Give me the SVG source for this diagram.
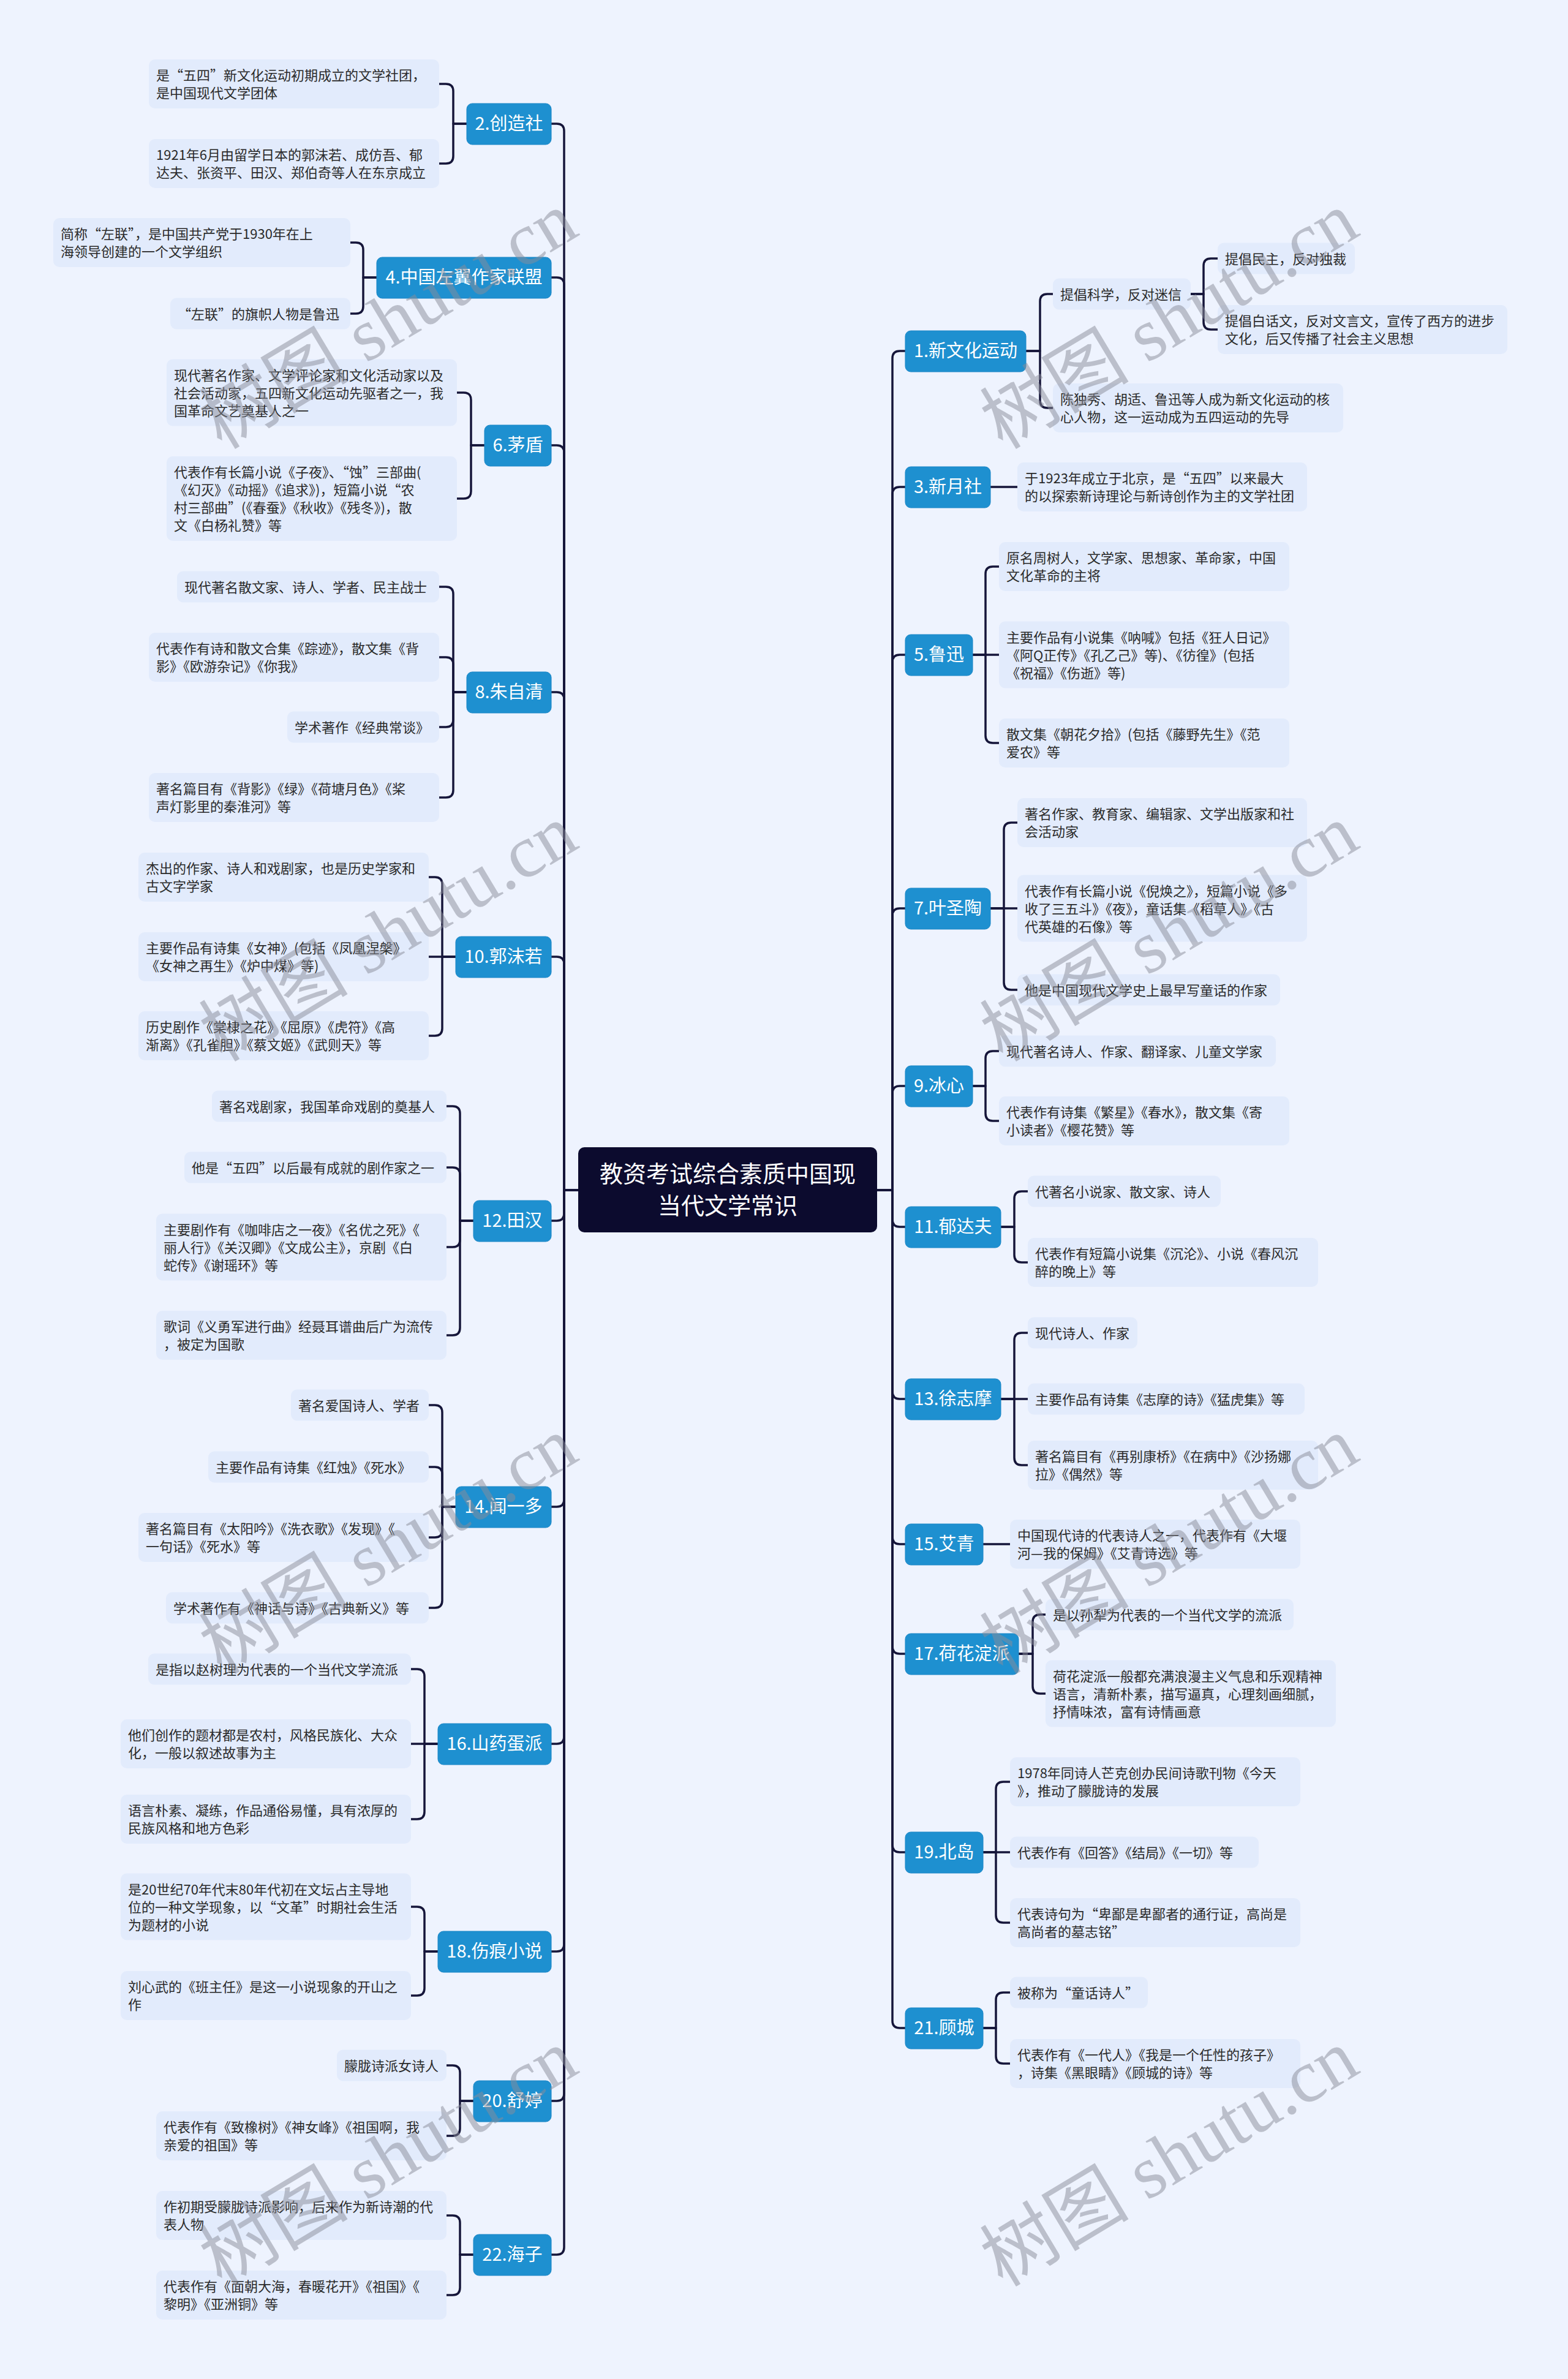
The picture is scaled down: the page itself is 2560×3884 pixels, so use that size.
<svg xmlns="http://www.w3.org/2000/svg" width="2560" height="3884" viewBox="0 0 2560 3884">
<style>
.c{fill:none;stroke:#16163a;stroke-width:3.5;stroke-linecap:round;stroke-linejoin:round}
.nb{fill:#1E90D0;stroke:#1a86c6;stroke-width:1}
.nt{fill:#ffffff;font-family:"Noto Sans CJK SC","Noto Sans",sans-serif;font-size:29px;text-anchor:middle}
.lb{fill:#E2EBFC}
.lt{fill:#2a2a2a;font-family:"Noto Sans CJK SC","Noto Sans",sans-serif;font-size:22px}
.rb{fill:#0C0B2E}
.rt{fill:#ffffff;font-family:"Noto Sans CJK SC","Noto Sans",sans-serif;font-size:38px;text-anchor:middle}
.wm{fill:#8a8d99;opacity:0.5;font-family:"Liberation Serif","Noto Sans CJK SC",serif;font-size:122px}
</style>
<rect x="0" y="0" width="2560" height="3884" fill="#EEF3FE"/>
<g id="connectors">
<path class="c" d="M944,1943 H921 V214 Q921,202 909,202 H900"/>
<path class="c" d="M944,1943 H921 V465 Q921,453 909,453 H900"/>
<path class="c" d="M944,1943 H921 V739 Q921,727 909,727 H900"/>
<path class="c" d="M944,1943 H921 V1142 Q921,1130 909,1130 H900"/>
<path class="c" d="M944,1943 H921 V1574 Q921,1562 909,1562 H900"/>
<path class="c" d="M944,1943 H921 V1981 Q921,1993 909,1993 H900"/>
<path class="c" d="M944,1943 H921 V2448 Q921,2460 909,2460 H900"/>
<path class="c" d="M944,1943 H921 V2835 Q921,2847 909,2847 H900"/>
<path class="c" d="M944,1943 H921 V3174 Q921,3186 909,3186 H900"/>
<path class="c" d="M944,1943 H921 V3418 Q921,3430 909,3430 H900"/>
<path class="c" d="M944,1943 H921 V3669 Q921,3681 909,3681 H900"/>
<path class="c" d="M1432,1943 H1457 V585 Q1457,573 1469,573 H1478"/>
<path class="c" d="M1432,1943 H1457 V807 Q1457,795 1469,795 H1478"/>
<path class="c" d="M1432,1943 H1457 V1081 Q1457,1069 1469,1069 H1478"/>
<path class="c" d="M1432,1943 H1457 V1495 Q1457,1483 1469,1483 H1478"/>
<path class="c" d="M1432,1943 H1457 V1785 Q1457,1773 1469,1773 H1478"/>
<path class="c" d="M1432,1943 H1457 V1991 Q1457,2003 1469,2003 H1478"/>
<path class="c" d="M1432,1943 H1457 V2272 Q1457,2284 1469,2284 H1478"/>
<path class="c" d="M1432,1943 H1457 V2509 Q1457,2521 1469,2521 H1478"/>
<path class="c" d="M1432,1943 H1457 V2688 Q1457,2700 1469,2700 H1478"/>
<path class="c" d="M1432,1943 H1457 V3012 Q1457,3024 1469,3024 H1478"/>
<path class="c" d="M1432,1943 H1457 V3299 Q1457,3311 1469,3311 H1478"/>
<path class="c" d="M762,202 H740 V149 Q740,137 728,137 H717"/>
<path class="c" d="M762,202 H740 V255 Q740,267 728,267 H717"/>
<path class="c" d="M615,453 H593 V408 Q593,396 581,396 H572"/>
<path class="c" d="M615,453 H593 V500 Q593,512 581,512 H572"/>
<path class="c" d="M791,727 H769 V653 Q769,641 757,641 H746"/>
<path class="c" d="M791,727 H769 V802 Q769,814 757,814 H746"/>
<path class="c" d="M762,1130 H740 V970 Q740,958 728,958 H717"/>
<path class="c" d="M762,1130 H740 V1085 Q740,1073 728,1073 H717"/>
<path class="c" d="M762,1130 H740 V1175 Q740,1187 728,1187 H717"/>
<path class="c" d="M762,1130 H740 V1290 Q740,1302 728,1302 H717"/>
<path class="c" d="M744,1562 H722 V1444 Q722,1432 710,1432 H700"/>
<path class="c" d="M744,1562 H700"/>
<path class="c" d="M744,1562 H722 V1679 Q722,1691 710,1691 H700"/>
<path class="c" d="M773,1993 H751 V1818 Q751,1806 739,1806 H729"/>
<path class="c" d="M773,1993 H751 V1918 Q751,1906 739,1906 H729"/>
<path class="c" d="M773,1993 H751 V2024 Q751,2036 739,2036 H729"/>
<path class="c" d="M773,1993 H751 V2168 Q751,2180 739,2180 H729"/>
<path class="c" d="M744,2460 H722 V2306 Q722,2294 710,2294 H700"/>
<path class="c" d="M744,2460 H722 V2407 Q722,2395 710,2395 H700"/>
<path class="c" d="M744,2460 H722 V2498 Q722,2510 710,2510 H700"/>
<path class="c" d="M744,2460 H722 V2613 Q722,2625 710,2625 H700"/>
<path class="c" d="M715,2847 H693 V2737 Q693,2725 681,2725 H671"/>
<path class="c" d="M715,2847 H671"/>
<path class="c" d="M715,2847 H693 V2958 Q693,2970 681,2970 H671"/>
<path class="c" d="M715,3186 H693 V3125 Q693,3113 681,3113 H671"/>
<path class="c" d="M715,3186 H693 V3246 Q693,3258 681,3258 H671"/>
<path class="c" d="M773,3430 H751 V3384 Q751,3372 739,3372 H729"/>
<path class="c" d="M773,3430 H751 V3475 Q751,3487 739,3487 H729"/>
<path class="c" d="M773,3681 H751 V3629 Q751,3617 739,3617 H729"/>
<path class="c" d="M773,3681 H751 V3735 Q751,3747 739,3747 H729"/>
<path class="c" d="M1675,573 H1698 V492 Q1698,480 1710,480 H1719"/>
<path class="c" d="M1675,573 H1698 V654 Q1698,666 1710,666 H1719"/>
<path class="c" d="M1944,480 H1965 V434 Q1965,422 1977,422 H1988"/>
<path class="c" d="M1944,480 H1965 V526 Q1965,538 1977,538 H1988"/>
<path class="c" d="M1617,795 H1661"/>
<path class="c" d="M1588,1069 H1609 V937 Q1609,925 1621,925 H1631"/>
<path class="c" d="M1588,1069 H1631"/>
<path class="c" d="M1588,1069 H1609 V1201 Q1609,1213 1621,1213 H1631"/>
<path class="c" d="M1617,1483 H1639 V1355 Q1639,1343 1651,1343 H1661"/>
<path class="c" d="M1617,1483 H1661"/>
<path class="c" d="M1617,1483 H1639 V1604 Q1639,1616 1651,1616 H1661"/>
<path class="c" d="M1588,1773 H1609 V1728 Q1609,1716 1621,1716 H1631"/>
<path class="c" d="M1588,1773 H1609 V1818 Q1609,1830 1621,1830 H1631"/>
<path class="c" d="M1634,2003 H1656 V1957 Q1656,1945 1668,1945 H1678"/>
<path class="c" d="M1634,2003 H1656 V2049 Q1656,2061 1668,2061 H1678"/>
<path class="c" d="M1634,2284 H1656 V2188 Q1656,2176 1668,2176 H1678"/>
<path class="c" d="M1634,2284 H1678"/>
<path class="c" d="M1634,2284 H1656 V2380 Q1656,2392 1668,2392 H1678"/>
<path class="c" d="M1605,2521 H1649"/>
<path class="c" d="M1663,2700 H1686 V2648 Q1686,2636 1698,2636 H1707"/>
<path class="c" d="M1663,2700 H1686 V2753 Q1686,2765 1698,2765 H1707"/>
<path class="c" d="M1605,3024 H1626 V2921 Q1626,2909 1638,2909 H1649"/>
<path class="c" d="M1605,3024 H1649"/>
<path class="c" d="M1605,3024 H1626 V3127 Q1626,3139 1638,3139 H1649"/>
<path class="c" d="M1605,3311 H1626 V3265 Q1626,3253 1638,3253 H1649"/>
<path class="c" d="M1605,3311 H1626 V3357 Q1626,3369 1638,3369 H1649"/>
</g>
<g id="root"><rect class="rb" x="944" y="1873" width="488" height="139" rx="10"/><text class="rt" x="1188" y="1930">教资考试综合素质中国现</text><text class="rt" x="1188" y="1982">当代文学常识</text></g>
<g id="n2"><rect class="nb" x="762" y="169" width="138" height="67" rx="9"/><text class="nt" x="831" y="212">2.创造社</text></g>
<g id="n4"><rect class="nb" x="615" y="420" width="285" height="67" rx="9"/><text class="nt" x="757.5" y="463">4.中国左翼作家联盟</text></g>
<g id="n6"><rect class="nb" x="791" y="694" width="109" height="67" rx="9"/><text class="nt" x="845.5" y="737">6.茅盾</text></g>
<g id="n8"><rect class="nb" x="762" y="1097" width="138" height="67" rx="9"/><text class="nt" x="831" y="1140">8.朱自清</text></g>
<g id="n10"><rect class="nb" x="744" y="1529" width="156" height="67" rx="9"/><text class="nt" x="822" y="1572">10.郭沫若</text></g>
<g id="n12"><rect class="nb" x="773" y="1960" width="127" height="67" rx="9"/><text class="nt" x="836.5" y="2003">12.田汉</text></g>
<g id="n14"><rect class="nb" x="744" y="2427" width="156" height="67" rx="9"/><text class="nt" x="822" y="2470">14.闻一多</text></g>
<g id="n16"><rect class="nb" x="715" y="2814" width="185" height="67" rx="9"/><text class="nt" x="807.5" y="2857">16.山药蛋派</text></g>
<g id="n18"><rect class="nb" x="715" y="3153" width="185" height="67" rx="9"/><text class="nt" x="807.5" y="3196">18.伤痕小说</text></g>
<g id="n20"><rect class="nb" x="773" y="3397" width="127" height="67" rx="9"/><text class="nt" x="836.5" y="3440">20.舒婷</text></g>
<g id="n22"><rect class="nb" x="773" y="3648" width="127" height="67" rx="9"/><text class="nt" x="836.5" y="3691">22.海子</text></g>
<g id="n1"><rect class="nb" x="1478" y="540" width="197" height="67" rx="9"/><text class="nt" x="1576.5" y="583">1.新文化运动</text></g>
<g id="n3"><rect class="nb" x="1478" y="762" width="139" height="67" rx="9"/><text class="nt" x="1547.5" y="805">3.新月社</text></g>
<g id="n5"><rect class="nb" x="1478" y="1036" width="110" height="67" rx="9"/><text class="nt" x="1533" y="1079">5.鲁迅</text></g>
<g id="n7"><rect class="nb" x="1478" y="1450" width="139" height="67" rx="9"/><text class="nt" x="1547.5" y="1493">7.叶圣陶</text></g>
<g id="n9"><rect class="nb" x="1478" y="1740" width="110" height="67" rx="9"/><text class="nt" x="1533" y="1783">9.冰心</text></g>
<g id="n11"><rect class="nb" x="1478" y="1970" width="156" height="67" rx="9"/><text class="nt" x="1556" y="2013">11.郁达夫</text></g>
<g id="n13"><rect class="nb" x="1478" y="2251" width="156" height="67" rx="9"/><text class="nt" x="1556" y="2294">13.徐志摩</text></g>
<g id="n15"><rect class="nb" x="1478" y="2488" width="127" height="67" rx="9"/><text class="nt" x="1541.5" y="2531">15.艾青</text></g>
<g id="n17"><rect class="nb" x="1478" y="2667" width="185" height="67" rx="9"/><text class="nt" x="1570.5" y="2710">17.荷花淀派</text></g>
<g id="n19"><rect class="nb" x="1478" y="2991" width="127" height="67" rx="9"/><text class="nt" x="1541.5" y="3034">19.北岛</text></g>
<g id="n21"><rect class="nb" x="1478" y="3278" width="127" height="67" rx="9"/><text class="nt" x="1541.5" y="3321">21.顾城</text></g>
<g id="l2a"><rect class="lb" x="243" y="97" width="474" height="80" rx="10"/><text class="lt" x="255" y="131">是“五四”新文化运动初期成立的文学社团，</text><text class="lt" x="255" y="160">是中国现代文学团体</text></g>
<g id="l2b"><rect class="lb" x="243" y="227" width="474" height="80" rx="10"/><text class="lt" x="255" y="261">1921年6月由留学日本的郭沫若、成仿吾、郁</text><text class="lt" x="255" y="290">达夫、张资平、田汉、郑伯奇等人在东京成立</text></g>
<g id="l4a"><rect class="lb" x="87" y="356" width="485" height="80" rx="10"/><text class="lt" x="99" y="390">简称“左联”，是中国共产党于1930年在上</text><text class="lt" x="99" y="419">海领导创建的一个文学组织</text></g>
<g id="l4b"><rect class="lb" x="278" y="486.5" width="294" height="51" rx="10"/><text class="lt" x="290" y="520.5">“左联”的旗帜人物是鲁迅</text></g>
<g id="l6a"><rect class="lb" x="272" y="586.5" width="474" height="109" rx="10"/><text class="lt" x="284" y="620.5">现代著名作家、文学评论家和文化活动家以及</text><text class="lt" x="284" y="649.5">社会活动家，五四新文化运动先驱者之一，我</text><text class="lt" x="284" y="678.5">国革命文艺奠基人之一</text></g>
<g id="l6b"><rect class="lb" x="272" y="745" width="474" height="138" rx="10"/><text class="lt" x="284" y="779">代表作有长篇小说《子夜》、“蚀”三部曲(</text><text class="lt" x="284" y="808">《幻灭》《动摇》《追求》)，短篇小说“农</text><text class="lt" x="284" y="837">村三部曲”(《春蚕》《秋收》《残冬》)，散</text><text class="lt" x="284" y="866">文《白杨礼赞》等</text></g>
<g id="l8a"><rect class="lb" x="289" y="932.5" width="428" height="51" rx="10"/><text class="lt" x="301" y="966.5">现代著名散文家、诗人、学者、民主战士</text></g>
<g id="l8b"><rect class="lb" x="243" y="1033" width="474" height="80" rx="10"/><text class="lt" x="255" y="1067">代表作有诗和散文合集《踪迹》，散文集《背</text><text class="lt" x="255" y="1096">影》《欧游杂记》《你我》</text></g>
<g id="l8c"><rect class="lb" x="469" y="1161.5" width="248" height="51" rx="10"/><text class="lt" x="481" y="1195.5">学术著作《经典常谈》</text></g>
<g id="l8d"><rect class="lb" x="243" y="1262" width="474" height="80" rx="10"/><text class="lt" x="255" y="1296">著名篇目有《背影》《绿》《荷塘月色》《桨</text><text class="lt" x="255" y="1325">声灯影里的秦淮河》等</text></g>
<g id="l10a"><rect class="lb" x="226" y="1392" width="474" height="80" rx="10"/><text class="lt" x="238" y="1426">杰出的作家、诗人和戏剧家，也是历史学家和</text><text class="lt" x="238" y="1455">古文字学家</text></g>
<g id="l10b"><rect class="lb" x="226" y="1522" width="474" height="80" rx="10"/><text class="lt" x="238" y="1556">主要作品有诗集《女神》(包括《凤凰涅槃》</text><text class="lt" x="238" y="1585">《女神之再生》《炉中煤》等)</text></g>
<g id="l10c"><rect class="lb" x="226" y="1651" width="474" height="80" rx="10"/><text class="lt" x="238" y="1685">历史剧作《棠棣之花》《屈原》《虎符》《高</text><text class="lt" x="238" y="1714">渐离》《孔雀胆》《蔡文姬》《武则天》等</text></g>
<g id="l12a"><rect class="lb" x="346" y="1780.5" width="383" height="51" rx="10"/><text class="lt" x="358" y="1814.5">著名戏剧家，我国革命戏剧的奠基人</text></g>
<g id="l12b"><rect class="lb" x="301" y="1880.5" width="428" height="51" rx="10"/><text class="lt" x="313" y="1914.5">他是“五四”以后最有成就的剧作家之一</text></g>
<g id="l12c"><rect class="lb" x="255" y="1981.5" width="474" height="109" rx="10"/><text class="lt" x="267" y="2015.5">主要剧作有《咖啡店之一夜》《名优之死》《</text><text class="lt" x="267" y="2044.5">丽人行》《关汉卿》《文成公主》，京剧《白</text><text class="lt" x="267" y="2073.5">蛇传》《谢瑶环》等</text></g>
<g id="l12d"><rect class="lb" x="255" y="2140" width="474" height="80" rx="10"/><text class="lt" x="267" y="2174">歌词《义勇军进行曲》经聂耳谱曲后广为流传</text><text class="lt" x="267" y="2203">，被定为国歌</text></g>
<g id="l14a"><rect class="lb" x="475" y="2268.5" width="225" height="51" rx="10"/><text class="lt" x="487" y="2302.5">著名爱国诗人、学者</text></g>
<g id="l14b"><rect class="lb" x="340" y="2369.5" width="360" height="51" rx="10"/><text class="lt" x="352" y="2403.5">主要作品有诗集《红烛》《死水》</text></g>
<g id="l14c"><rect class="lb" x="226" y="2470" width="474" height="80" rx="10"/><text class="lt" x="238" y="2504">著名篇目有《太阳吟》《洗衣歌》《发现》《</text><text class="lt" x="238" y="2533">一句话》《死水》等</text></g>
<g id="l14d"><rect class="lb" x="271" y="2599.5" width="429" height="51" rx="10"/><text class="lt" x="283" y="2633.5">学术著作有《神话与诗》《古典新义》等</text></g>
<g id="l16a"><rect class="lb" x="242" y="2699.5" width="429" height="51" rx="10"/><text class="lt" x="254" y="2733.5">是指以赵树理为代表的一个当代文学流派</text></g>
<g id="l16b"><rect class="lb" x="197" y="2807" width="474" height="80" rx="10"/><text class="lt" x="209" y="2841">他们创作的题材都是农村，风格民族化、大众</text><text class="lt" x="209" y="2870">化，一般以叙述故事为主</text></g>
<g id="l16c"><rect class="lb" x="197" y="2930" width="474" height="80" rx="10"/><text class="lt" x="209" y="2964">语言朴素、凝练，作品通俗易懂，具有浓厚的</text><text class="lt" x="209" y="2993">民族风格和地方色彩</text></g>
<g id="l18a"><rect class="lb" x="197" y="3058.5" width="474" height="109" rx="10"/><text class="lt" x="209" y="3092.5">是20世纪70年代末80年代初在文坛占主导地</text><text class="lt" x="209" y="3121.5">位的一种文学现象，以“文革”时期社会生活</text><text class="lt" x="209" y="3150.5">为题材的小说</text></g>
<g id="l18b"><rect class="lb" x="197" y="3218" width="474" height="80" rx="10"/><text class="lt" x="209" y="3252">刘心武的《班主任》是这一小说现象的开山之</text><text class="lt" x="209" y="3281">作</text></g>
<g id="l20a"><rect class="lb" x="550" y="3346.5" width="179" height="51" rx="10"/><text class="lt" x="562" y="3380.5">朦胧诗派女诗人</text></g>
<g id="l20b"><rect class="lb" x="255" y="3447" width="474" height="80" rx="10"/><text class="lt" x="267" y="3481">代表作有《致橡树》《神女峰》《祖国啊，我</text><text class="lt" x="267" y="3510">亲爱的祖国》等</text></g>
<g id="l22a"><rect class="lb" x="255" y="3577" width="474" height="80" rx="10"/><text class="lt" x="267" y="3611">作初期受朦胧诗派影响，后来作为新诗潮的代</text><text class="lt" x="267" y="3640">表人物</text></g>
<g id="l22b"><rect class="lb" x="255" y="3707" width="474" height="80" rx="10"/><text class="lt" x="267" y="3741">代表作有《面朝大海，春暖花开》《祖国》《</text><text class="lt" x="267" y="3770">黎明》《亚洲铜》等</text></g>
<g id="l1a"><rect class="lb" x="1719" y="454.5" width="225" height="51" rx="10"/><text class="lt" x="1731" y="488.5">提倡科学，反对迷信</text></g>
<g id="l1a1"><rect class="lb" x="1988" y="396.5" width="224" height="51" rx="10"/><text class="lt" x="2000" y="430.5">提倡民主，反对独裁</text></g>
<g id="l1a2"><rect class="lb" x="1988" y="498" width="473" height="80" rx="10"/><text class="lt" x="2000" y="532">提倡白话文，反对文言文，宣传了西方的进步</text><text class="lt" x="2000" y="561">文化，后又传播了社会主义思想</text></g>
<g id="l1b"><rect class="lb" x="1719" y="626" width="474" height="80" rx="10"/><text class="lt" x="1731" y="660">陈独秀、胡适、鲁迅等人成为新文化运动的核</text><text class="lt" x="1731" y="689">心人物，这一运动成为五四运动的先导</text></g>
<g id="l3a"><rect class="lb" x="1661" y="755" width="473" height="80" rx="10"/><text class="lt" x="1673" y="789">于1923年成立于北京，是“五四”以来最大</text><text class="lt" x="1673" y="818">的以探索新诗理论与新诗创作为主的文学社团</text></g>
<g id="l5a"><rect class="lb" x="1631" y="885" width="474" height="80" rx="10"/><text class="lt" x="1643" y="919">原名周树人，文学家、思想家、革命家，中国</text><text class="lt" x="1643" y="948">文化革命的主将</text></g>
<g id="l5b"><rect class="lb" x="1631" y="1014.5" width="474" height="109" rx="10"/><text class="lt" x="1643" y="1048.5">主要作品有小说集《呐喊》包括《狂人日记》</text><text class="lt" x="1643" y="1077.5">《阿Q正传》《孔乙己》等)、《彷徨》(包括</text><text class="lt" x="1643" y="1106.5">《祝福》《伤逝》等)</text></g>
<g id="l5c"><rect class="lb" x="1631" y="1173" width="474" height="80" rx="10"/><text class="lt" x="1643" y="1207">散文集《朝花夕拾》(包括《藤野先生》《范</text><text class="lt" x="1643" y="1236">爱农》等</text></g>
<g id="l7a"><rect class="lb" x="1661" y="1303" width="473" height="80" rx="10"/><text class="lt" x="1673" y="1337">著名作家、教育家、编辑家、文学出版家和社</text><text class="lt" x="1673" y="1366">会活动家</text></g>
<g id="l7b"><rect class="lb" x="1661" y="1428.5" width="473" height="109" rx="10"/><text class="lt" x="1673" y="1462.5">代表作有长篇小说《倪焕之》，短篇小说《多</text><text class="lt" x="1673" y="1491.5">收了三五斗》《夜》，童话集《稻草人》《古</text><text class="lt" x="1673" y="1520.5">代英雄的石像》等</text></g>
<g id="l7c"><rect class="lb" x="1661" y="1590.5" width="429" height="51" rx="10"/><text class="lt" x="1673" y="1624.5">他是中国现代文学史上最早写童话的作家</text></g>
<g id="l9a"><rect class="lb" x="1631" y="1690.5" width="452" height="51" rx="10"/><text class="lt" x="1643" y="1724.5">现代著名诗人、作家、翻译家、儿童文学家</text></g>
<g id="l9b"><rect class="lb" x="1631" y="1790" width="474" height="80" rx="10"/><text class="lt" x="1643" y="1824">代表作有诗集《繁星》《春水》，散文集《寄</text><text class="lt" x="1643" y="1853">小读者》《樱花赞》等</text></g>
<g id="l11a"><rect class="lb" x="1678" y="1919.5" width="315" height="51" rx="10"/><text class="lt" x="1690" y="1953.5">代著名小说家、散文家、诗人</text></g>
<g id="l11b"><rect class="lb" x="1678" y="2021" width="474" height="80" rx="10"/><text class="lt" x="1690" y="2055">代表作有短篇小说集《沉沦》、小说《春风沉</text><text class="lt" x="1690" y="2084">醉的晚上》等</text></g>
<g id="l13a"><rect class="lb" x="1678" y="2150.5" width="179" height="51" rx="10"/><text class="lt" x="1690" y="2184.5">现代诗人、作家</text></g>
<g id="l13b"><rect class="lb" x="1678" y="2258.5" width="452" height="51" rx="10"/><text class="lt" x="1690" y="2292.5">主要作品有诗集《志摩的诗》《猛虎集》等</text></g>
<g id="l13c"><rect class="lb" x="1678" y="2352" width="474" height="80" rx="10"/><text class="lt" x="1690" y="2386">著名篇目有《再别康桥》《在病中》《沙扬娜</text><text class="lt" x="1690" y="2415">拉》《偶然》等</text></g>
<g id="l15a"><rect class="lb" x="1649" y="2481" width="474" height="80" rx="10"/><text class="lt" x="1661" y="2515">中国现代诗的代表诗人之一，代表作有《大堰</text><text class="lt" x="1661" y="2544">河—我的保姆》《艾青诗选》等</text></g>
<g id="l17a"><rect class="lb" x="1707" y="2610.5" width="405" height="51" rx="10"/><text class="lt" x="1719" y="2644.5">是以孙犁为代表的一个当代文学的流派</text></g>
<g id="l17b"><rect class="lb" x="1707" y="2710.5" width="474" height="109" rx="10"/><text class="lt" x="1719" y="2744.5">荷花淀派一般都充满浪漫主义气息和乐观精神</text><text class="lt" x="1719" y="2773.5">语言，清新朴素，描写逼真，心理刻画细腻，</text><text class="lt" x="1719" y="2802.5">抒情味浓，富有诗情画意</text></g>
<g id="l19a"><rect class="lb" x="1649" y="2869" width="474" height="80" rx="10"/><text class="lt" x="1661" y="2903">1978年同诗人芒克创办民间诗歌刊物《今天</text><text class="lt" x="1661" y="2932">》，推动了朦胧诗的发展</text></g>
<g id="l19b"><rect class="lb" x="1649" y="2998.5" width="406" height="51" rx="10"/><text class="lt" x="1661" y="3032.5">代表作有《回答》《结局》《一切》等</text></g>
<g id="l19c"><rect class="lb" x="1649" y="3099" width="474" height="80" rx="10"/><text class="lt" x="1661" y="3133">代表诗句为“卑鄙是卑鄙者的通行证，高尚是</text><text class="lt" x="1661" y="3162">高尚者的墓志铭”</text></g>
<g id="l21a"><rect class="lb" x="1649" y="3227.5" width="225" height="51" rx="10"/><text class="lt" x="1661" y="3261.5">被称为“童话诗人”</text></g>
<g id="l21b"><rect class="lb" x="1649" y="3329" width="474" height="80" rx="10"/><text class="lt" x="1661" y="3363">代表作有《一代人》《我是一个任性的孩子》</text><text class="lt" x="1661" y="3392">，诗集《黑眼睛》《顾城的诗》等</text></g>
<g id="watermarks">
<text class="wm" transform="translate(362,735) rotate(-31)">树图 shutu.cn</text>
<text class="wm" transform="translate(362,1735) rotate(-31)">树图 shutu.cn</text>
<text class="wm" transform="translate(362,2735) rotate(-31)">树图 shutu.cn</text>
<text class="wm" transform="translate(362,3735) rotate(-31)">树图 shutu.cn</text>
<text class="wm" transform="translate(1637,735) rotate(-31)">树图 shutu.cn</text>
<text class="wm" transform="translate(1637,1735) rotate(-31)">树图 shutu.cn</text>
<text class="wm" transform="translate(1637,2735) rotate(-31)">树图 shutu.cn</text>
<text class="wm" transform="translate(1637,3735) rotate(-31)">树图 shutu.cn</text>
</g>
</svg>
